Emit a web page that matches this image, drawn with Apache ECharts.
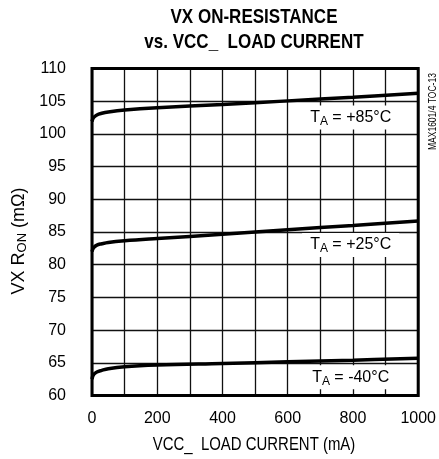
<!DOCTYPE html>
<html>
<head>
<meta charset="utf-8">
<script src="https://cdn.jsdelivr.net/npm/echarts@6/dist/echarts.min.js"></script>
<style>html,body{margin:0;padding:0;background:#fff;}#c{width:439px;height:459px;}</style>
</head>
<body>
<div id="c"></div>
<script>
var loadCurrent = [0, 5, 15, 30, 50, 100, 200, 400, 600, 800, 1000];
var ron85 = [101.9, 102.5, 102.9, 103.15, 103.35, 103.65, 104.0, 104.5, 105.05, 105.6, 106.2];
var ron25 = [82.0, 82.6, 83.0, 83.2, 83.4, 83.65, 84.0, 84.65, 85.35, 86.0, 86.7];
var ronM40 = [62.5, 63.2, 63.6, 63.85, 64.1, 64.4, 64.65, 64.9, 65.15, 65.4, 65.7];
var xTicks = [0, 200, 400, 600, 800, 1000];
var yTicks = [60, 65, 70, 75, 80, 85, 90, 95, 100, 105, 110];
var titleLines = ['VX ON-RESISTANCE', 'vs. VCC_  LOAD CURRENT'];
var xName = 'VCC_  LOAD CURRENT (mA)';
var sideNote = 'MAX1601/4 TOC-13';
var curveLabels = [
  {temp: '+85°C', x: 793, y: 102.5},
  {temp: '+25°C', x: 793, y: 83.0},
  {temp: '-40°C', x: 793, y: 62.8}
];

var FONT = '"Liberation Sans",Arial,sans-serif';

function pairs(ys) { return loadCurrent.map(function (x, i) { return [x, ys[i]]; }); }

function labelMark(l) {
  return {
    symbol: 'rect', symbolSize: 0, silent: true,
    data: [{coord: [l.x, l.y]}],
    label: {
      show: true, position: 'inside',
      backgroundColor: '#fff', padding: [2, 8, 2, 8],
      formatter: '{t|T}{s|A}{t| = ' + l.temp + '}',
      rich: {
        t: {fontFamily: FONT, fontSize: 16, color: '#000', verticalAlign: 'middle'},
        s: {fontFamily: FONT, fontSize: 12, color: '#000', padding: [8, 0, 0, 0], verticalAlign: 'middle'}
      }
    }
  };
}

function series(ys, l) {
  return {
    type: 'line', data: pairs(ys), smooth: 0.4, showSymbol: false, symbol: 'none',
    lineStyle: {color: '#000', width: 3.5}, z: 3,
    markPoint: labelMark(l)
  };
}

var chart = echarts.init(document.getElementById('c'), null, {renderer: 'canvas'});
chart.setOption({
  backgroundColor: '#fff',
  animation: false,
  grid: {left: 92, right: 20, top: 68.5, bottom: 63.5, show: true, borderColor: '#000', borderWidth: 3, backgroundColor: 'transparent', z: 4},
  xAxis: {
    type: 'value', min: 0, max: 1000, interval: 100,
    axisLine: {show: false}, axisTick: {show: false},
    axisLabel: {fontFamily: FONT, fontSize: 16, color: '#000', margin: 15,
      formatter: function (v) { return xTicks.indexOf(v) >= 0 ? String(v) : ''; }},
    splitLine: {show: true, lineStyle: {color: '#111', width: 1.3}}
  },
  yAxis: {
    type: 'value', min: 60, max: 110, interval: 5,
    axisLine: {show: false}, axisTick: {show: false},
    axisLabel: {fontFamily: FONT, fontSize: 16, color: '#000', margin: 26,
      formatter: function (v) { return yTicks.indexOf(v) >= 0 ? String(v) : ''; }},
    splitLine: {show: true, lineStyle: {color: '#111', width: 1.3}}
  },
  graphic: [
    {type: 'text', x: 254, y: 17, scaleX: 0.81,
      style: {text: titleLines[0], fontFamily: FONT, fontWeight: 'bold', fontSize: 21, fill: '#000', textAlign: 'center', textVerticalAlign: 'middle'}},
    {type: 'text', x: 254, y: 42, scaleX: 0.81,
      style: {text: titleLines[1], fontFamily: FONT, fontWeight: 'bold', fontSize: 21, fill: '#000', textAlign: 'center', textVerticalAlign: 'middle'}},
    {type: 'text', x: 254, y: 445, scaleX: 0.83,
      style: {text: xName, fontFamily: FONT, fontSize: 18, fill: '#000', textAlign: 'center', textVerticalAlign: 'middle'}},
    {type: 'text', x: 19, y: 241, rotation: Math.PI / 2,
      style: {
        text: '{n|VX R}{s|ON}{n| (mΩ)}', textAlign: 'center', textVerticalAlign: 'middle',
        rich: {
          n: {fontFamily: FONT, fontSize: 18, fill: '#000', color: '#000'},
          s: {fontFamily: FONT, fontSize: 13, fill: '#000', color: '#000', padding: [7, 0, 0, 0]}
        }
      }},
    {type: 'text', x: 428, y: 150, rotation: Math.PI / 2, scaleX: 0.85,
      style: {text: sideNote, fontFamily: FONT, fontSize: 10, fill: '#000', textAlign: 'left', textVerticalAlign: 'top'}}
  ],
  series: [series(ron85, curveLabels[0]), series(ron25, curveLabels[1]), series(ronM40, curveLabels[2])]
});
</script>
</body>
</html>
